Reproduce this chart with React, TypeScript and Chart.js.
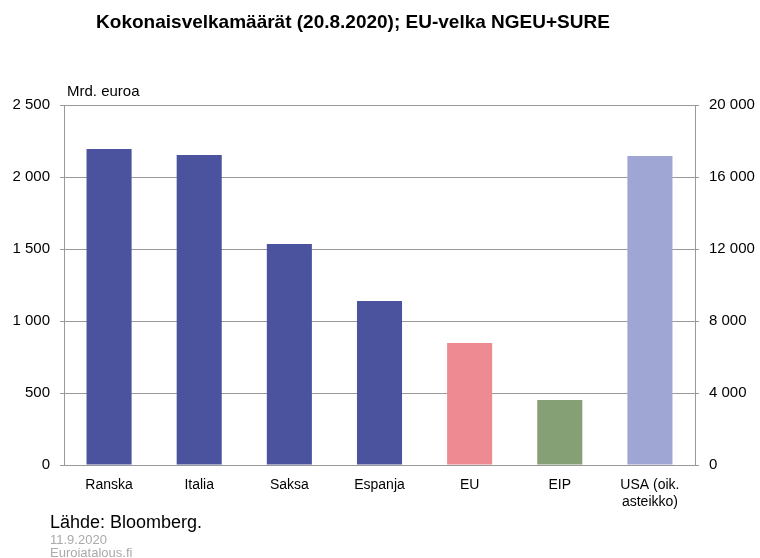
import React, { useEffect, useRef } from "react";
import { Chart, registerables } from "chart.js";

Chart.register(...registerables);

const categories: (string | string[])[] = ["Ranska", "Italia", "Saksa", "Espanja", "EU", "EIP", ["USA (oik.", "asteikko)"]];
const leftValues: (number | null)[] = [2195, 2153, 1535, 1139, 848, 451, null];
const rightValues: (number | null)[] = [null, null, null, null, null, null, 17170];
const leftColors = ["#4B539F", "#4B539F", "#4B539F", "#4B539F", "#EE8A92", "#86A075", "#A0A6D4"];
const rightColor = "#A0A6D4";

const title = "Kokonaisvelkamäärät (20.8.2020); EU-velka NGEU+SURE";
const unitLabel = "Mrd. euroa";
const sourceLabel = "Lähde: Bloomberg.";
const dateLabel = "11.9.2020";
const siteLabel = "Euroiatalous.fi";

const fmt = (v: number) => String(v).replace(/\B(?=(\d{3})+(?!\d))/g, " ");

export default function App() {
  const ref = useRef<HTMLCanvasElement | null>(null);
  useEffect(() => {
    document.body.style.margin = "0";
    const ctx = ref.current!;
    const chart = new Chart(ctx, {
      type: "bar",
      data: {
        labels: categories as any,
        datasets: [
          {
            data: leftValues,
            backgroundColor: leftColors,
            yAxisID: "y",
            grouped: false,
            barPercentage: 0.5,
            categoryPercentage: 1,
          } as any,
          {
            data: rightValues,
            backgroundColor: rightColor,
            yAxisID: "y2",
            grouped: false,
            barPercentage: 0.5,
            categoryPercentage: 1,
          } as any,
        ],
      },
      options: {
        animation: false,
        responsive: false,
        maintainAspectRatio: false,
        layout: { padding: { top: 105, left: 0, right: 0, bottom: 0 } },
        plugins: { legend: { display: false }, tooltip: { enabled: false }, title: { display: false } },
        scales: {
          x: {
            grid: { display: false },
            border: { display: true, color: "#999", width: 1 },
            ticks: {
              color: "#000",
              font: { family: "Liberation Sans, Arial, sans-serif", size: 14 },
              padding: 4,
              maxRotation: 0,
              autoSkip: false,
            },
            afterFit: (s: any) => { s.height = 93; },
          },
          y: {
            position: "left",
            min: 0,
            max: 2500,
            grid: { color: "#999", tickLength: 4, drawOnChartArea: true },
            border: { display: true, color: "#999" },
            ticks: {
              stepSize: 500,
              color: "#000",
              font: { family: "Liberation Sans, Arial, sans-serif", size: 15 },
              padding: 10,
              callback: (v: any) => fmt(Number(v)),
            },
            afterFit: (s: any) => { s.width = 64; },
          },
          y2: {
            position: "right",
            min: 0,
            max: 20000,
            grid: { color: "#999", tickLength: 4, drawOnChartArea: false },
            border: { display: true, color: "#999" },
            ticks: {
              stepSize: 4000,
              color: "#000",
              font: { family: "Liberation Sans, Arial, sans-serif", size: 15 },
              padding: 10,
              callback: (v: any) => fmt(Number(v)),
            },
            afterFit: (s: any) => { s.width = 65; },
          },
        },
      },
    });
    return () => chart.destroy();
  }, []);

  const font = "Liberation Sans, Arial, sans-serif";
  return (
    <div style={{ position: "relative", width: 760, height: 558, overflow: "hidden", background: "#fff", fontFamily: font }}>
      <canvas ref={ref} width={760} height={558} style={{ position: "absolute", left: 0, top: 0 }} />
      <div style={{ position: "absolute", left: 0, width: 706, top: 11, textAlign: "center", fontWeight: "bold", fontSize: 19, color: "#000" }}>{title}</div>
      <div style={{ position: "absolute", left: 67, top: 82, fontSize: 15, color: "#000" }}>{unitLabel}</div>
      <div style={{ position: "absolute", left: 50, top: 512, fontSize: 18, color: "#000" }}>{sourceLabel}</div>
      <div style={{ position: "absolute", left: 50, top: 532, fontSize: 13, color: "#aaa" }}>{dateLabel}</div>
      <div style={{ position: "absolute", left: 50, top: 545, fontSize: 13, color: "#aaa" }}>{siteLabel}</div>
    </div>
  );
}
